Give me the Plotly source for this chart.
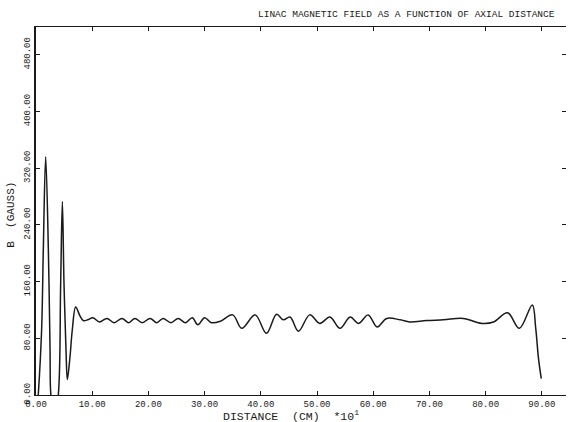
import plotly.graph_objects as go

# Axial distance (CM * 10) and magnetic field B (GAUSS)
distance = [0.0, 0.4, 1.0, 1.3, 1.72, 2.2, 2.5, 2.65, 3.3, 3.97, 4.39, 4.69, 4.98, 5.34,
            5.58, 6.05, 6.46, 7.06, 7.8, 8.4, 9.2, 10.1, 11.3, 12.6, 13.9, 15.3, 16.5,
            17.6, 18.9, 20.3, 21.5, 22.6, 24.0, 25.3, 26.6, 27.8, 28.8, 30.0, 31.2,
            32.8, 35.0, 36.6, 39.0, 41.0, 42.8, 44.0, 45.2, 46.7, 48.7, 50.5, 52.3,
            54.1, 55.9, 57.4, 59.1, 60.7, 62.4, 64.8, 66.5, 69.5, 72.5, 76.0, 79.3,
            81.4, 83.9, 86.0, 88.3, 88.9, 89.4, 89.9]
field = [-40, 0, 92, 205, 336, 205, 63, 0, -30, 0, 158, 273, 158, 63,
         22, 54, 92, 124, 112, 105, 106, 109, 103, 108, 102, 108, 102,
         108, 102, 108, 102, 108, 102, 108, 102, 109, 99, 109, 102,
         104, 113, 94, 113, 87, 114, 106, 110, 90, 113, 101, 110,
         94, 110, 101, 113, 96, 108, 106, 103, 105, 106, 108, 101,
         103, 116, 94, 127, 95, 52, 23]

x_ticks = [0, 10, 20, 30, 40, 50, 60, 70, 80, 90]
x_tick_labels = ["0.00", "10.00", "20.00", "30.00", "40.00", "50.00", "60.00",
                 "70.00", "80.00", "90.00"]
y_ticks = [0, 80, 160, 240, 320, 400, 480]
y_tick_labels = ["0.00", "80.00", "160.00", "240.00", "320.00", "400.00", "480.00"]

INK = "#1a1a1a"
FONT = "Liberation Mono"
X_RANGE = [0, 94.3]
Y_RANGE = [0, 519]

fig = go.Figure()
fig.add_trace(go.Scatter(
    x=distance, y=field, mode="lines",
    line=dict(color=INK, width=1.5, shape="spline", smoothing=1.0),
    hoverinfo="skip", showlegend=False,
))
# invisible trace carrying the right-hand tick axis
fig.add_trace(go.Scatter(x=[distance[0]], y=[field[0]], yaxis="y2", mode="lines",
                         line=dict(width=0), showlegend=False, hoverinfo="skip"))

fig.update_layout(
    width=568, height=422,
    margin=dict(l=36, r=2, t=27, b=27),
    paper_bgcolor="white", plot_bgcolor="white",
    font=dict(family=FONT, color=INK, size=9),
    xaxis=dict(
        range=X_RANGE, tickvals=x_ticks, ticktext=x_tick_labels,
        showgrid=False, zeroline=False, showline=True, linecolor=INK, linewidth=1,
        mirror="ticks", ticks="inside", ticklen=4, tickcolor=INK,
        tickfont=dict(family=FONT, size=9, color=INK),
    ),
    yaxis=dict(
        range=Y_RANGE, tickvals=y_ticks, ticktext=y_tick_labels,
        showgrid=False, zeroline=False, showline=True, linecolor=INK, linewidth=2,
        ticks="inside", ticklen=4, tickcolor=INK, tickangle=-90,
        tickfont=dict(family=FONT, size=9, color=INK),
    ),
    yaxis2=dict(
        range=Y_RANGE, tickvals=y_ticks, overlaying="y", side="right",
        showgrid=False, zeroline=False, showline=False, showticklabels=False,
        ticks="inside", ticklen=4, tickcolor=INK,
    ),
    annotations=[
        dict(text="LINAC MAGNETIC FIELD AS A FUNCTION OF AXIAL DISTANCE",
             xref="paper", yref="paper", x=0.699, y=1.0, yshift=13,
             xanchor="center", yanchor="middle", showarrow=False,
             font=dict(family=FONT, size=9.5, color=INK)),
        dict(text="DISTANCE  (CM)  *10<sup>1</sup>",
             xref="paper", yref="paper", x=0.481, y=0.0, yshift=-20,
             xanchor="center", yanchor="middle", showarrow=False,
             font=dict(family=FONT, size=11.5, color=INK)),
        dict(text="B  (GAUSS)", textangle=-90,
             xref="paper", yref="paper", x=0.0, xshift=-25, y=0.49,
             xanchor="center", yanchor="middle", showarrow=False,
             font=dict(family=FONT, size=11, color=INK)),
    ],
)

fig.write_html("out.html")
